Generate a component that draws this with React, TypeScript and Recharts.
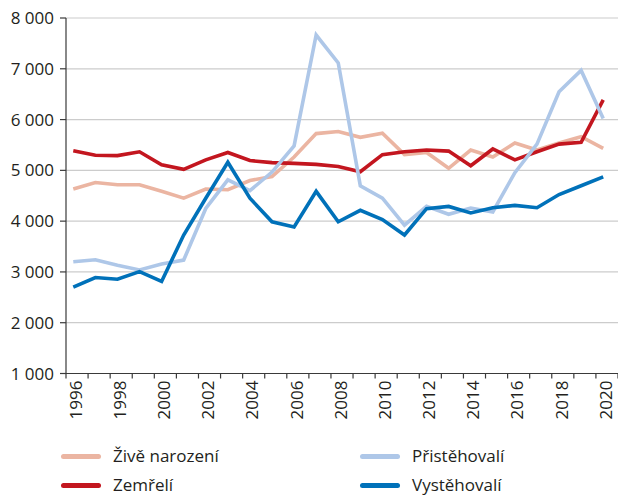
import React from 'react';
import { LineChart, Line, XAxis, YAxis, CartesianGrid, Legend } from 'recharts';

const years = [1996, 1997, 1998, 1999, 2000, 2001, 2002, 2003, 2004, 2005, 2006, 2007, 2008, 2009, 2010, 2011, 2012, 2013, 2014, 2015, 2016, 2017, 2018, 2019, 2020];
const ziveNarozeni = [4632, 4761, 4716, 4716, 4587, 4452, 4632, 4619, 4800, 4877, 5262, 5724, 5766, 5650, 5731, 5310, 5352, 5041, 5400, 5262, 5538, 5400, 5538, 5662, 5434];
const zemreli = [5386, 5297, 5290, 5366, 5110, 5020, 5207, 5352, 5193, 5152, 5138, 5117, 5076, 4972, 5310, 5366, 5400, 5379, 5090, 5421, 5207, 5366, 5517, 5552, 6387];
const pristehovali = [3201, 3240, 3130, 3039, 3156, 3234, 4250, 4814, 4600, 4966, 5483, 7665, 7116, 4697, 4452, 3922, 4290, 4135, 4258, 4180, 4955, 5517, 6548, 6968, 6019];
const vystehovali = [2701, 2890, 2857, 3006, 2812, 3727, 4450, 5159, 4452, 3987, 3884, 4587, 3987, 4213, 4032, 3727, 4245, 4290, 4161, 4265, 4310, 4265, 4524, 4697, 4871];

const seriesNames = ['Živě narození', 'Zemřelí', 'Přistěhovalí', 'Vystěhovalí'];
const seriesKeys = ['zive', 'zemreli', 'pristehovali', 'vystehovali'];
const seriesColors = ['#ebb5a2', '#c3161f', '#aec7e8', '#0071b9'];
const yTicks = [1000, 2000, 3000, 4000, 5000, 6000, 7000, 8000];
const xLabelTicks = [1996, 1998, 2000, 2002, 2004, 2006, 2008, 2010, 2012, 2014, 2016, 2018, 2020];
const xMarkTicks = [...years.map((y) => y - 0.33), 2020.67];

const data = years.map((year, i) => ({
  year,
  zive: ziveNarozeni[i],
  zemreli: zemreli[i],
  pristehovali: pristehovali[i],
  vystehovali: vystehovali[i],
}));

const FONT = "'Open Sans', sans-serif";
const TEXT = '#231f20';

const fmt = (v: number) => {
  const s = String(v);
  return s.length > 3 ? s.slice(0, s.length - 3) + ' ' + s.slice(-3) : s;
};

const YearTick = (props: any) => {
  const { x, y, payload } = props;
  return (
    <text
      x={x}
      y={y + 1}
      transform={`rotate(-90 ${x} ${y + 1})`}
      textAnchor="end"
      dy={8.5}
      fontSize={17}
      fontFamily={FONT}
      fill={TEXT}
    >
      {payload.value}
    </text>
  );
};

const renderLegend = (props: any) => {
  const items = [...(props.payload || [])].sort(
    (a: any, b: any) => seriesNames.indexOf(a.value) - seriesNames.indexOf(b.value)
  );
  return (
    <div style={{ position: 'relative', width: 618, height: 0, fontFamily: FONT, fontSize: 17, color: TEXT }}>
      {items.map((entry: any, i: number) => {
        const col = Math.floor(i / 2);
        const row = i % 2;
        return (
          <div
            key={entry.value}
            style={{
              position: 'absolute',
              left: col === 0 ? 61 : 360,
              top: row * 29,
              height: 20,
              lineHeight: '20px',
              display: 'flex',
              alignItems: 'center',
              whiteSpace: 'nowrap',
            }}
          >
            <span style={{ display: 'inline-block', width: 40, height: 5, borderRadius: 3, background: entry.color, marginRight: 12 }} />
            <span>{entry.value}</span>
          </div>
        );
      })}
    </div>
  );
};

export default function App() {
  return (
    <div style={{ position: 'absolute', left: 0, top: 0, width: 618, height: 495, background: '#fff' }}>
      <LineChart width={618} height={495} data={data} margin={{ top: 18, right: 0, left: 0, bottom: 60.5 }} style={{ fontFamily: FONT }}>
        <CartesianGrid vertical={false} stroke="#cccccc" strokeWidth={1.2} xAxisId="a" />
        <XAxis
          xAxisId="a"
          dataKey="year"
          type="number"
          domain={[1995.67, 2020.67]}
          allowDataOverflow
          ticks={xMarkTicks}
          interval={0}
          tickFormatter={() => ''}
          tickSize={5}
          height={6}
          axisLine={{ stroke: '#3a3a3a', strokeWidth: 1.2 }}
          tickLine={{ stroke: '#3a3a3a', strokeWidth: 1.2 }}
        />
        <XAxis
          xAxisId="b"
          dataKey="year"
          type="number"
          domain={[1995.67, 2020.67]}
          allowDataOverflow
          ticks={xLabelTicks}
          interval={0}
          tickSize={0}
          tickMargin={0}
          height={55}
          axisLine={false}
          tickLine={false}
          tick={<YearTick />}
        />
        <YAxis
          type="number"
          domain={[1000, 8000]}
          ticks={yTicks}
          interval={0}
          width={66}
          tickSize={6}
          tickMargin={6}
          tickFormatter={fmt}
          tick={{ fontSize: 17, fontFamily: FONT, fill: TEXT }}
          axisLine={{ stroke: '#3a3a3a', strokeWidth: 1.2 }}
          tickLine={{ stroke: '#3a3a3a', strokeWidth: 1.2 }}
        />
        <Legend
          content={renderLegend}
          wrapperStyle={{ position: 'absolute', left: 0, top: 446, width: 618, height: 0 }}
        />
        {seriesKeys.map((k, i) => (
          <Line
            key={k}
            xAxisId="a"
            type="linear"
            dataKey={k}
            name={seriesNames[i]}
            stroke={seriesColors[i]}
            strokeWidth={3.6}
            dot={false}
            activeDot={false}
            isAnimationActive={false}
          />
        ))}
      </LineChart>
    </div>
  );
}
